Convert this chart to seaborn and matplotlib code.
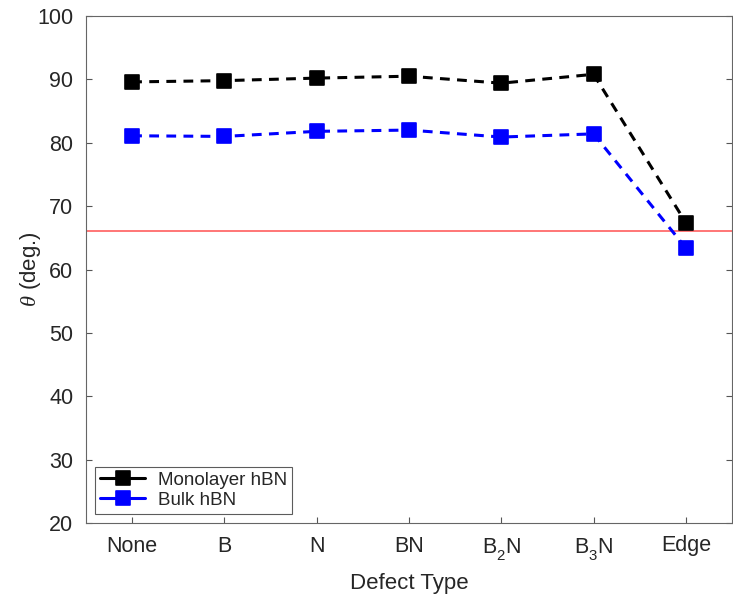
import matplotlib
matplotlib.use("Agg")
import matplotlib.pyplot as plt
from matplotlib.markers import MarkerStyle
import matplotlib._mathtext as _mt
import seaborn as sns
import pandas as pd

categories = ["None", "B", "N", "BN", "B$_2$N", "B$_3$N", "Edge"]
monolayer = [89.6, 89.8, 90.2, 90.5, 89.4, 90.8, 67.4]
bulk = [81.1, 81.0, 81.8, 82.0, 80.9, 81.4, 63.4]
threshold = 66.0

sns.set_theme(style="white")
plt.rcParams["font.family"] = ["Liberation Sans", "DejaVu Sans"]
plt.rcParams["mathtext.fontset"] = "custom"
plt.rcParams["mathtext.rm"] = "Liberation Sans"
plt.rcParams["mathtext.it"] = "Liberation Serif:italic"
try:
    _mt.FontConstantsBase.sub1 = 0.7
    _mt.FontConstantsBase.sub2 = 0.9
except Exception:
    pass

pos = list(range(1, len(categories) + 1))
df = pd.DataFrame({
    "pos": pos * 2,
    "theta": monolayer + bulk,
    "series": ["Monolayer hBN"] * len(pos) + ["Bulk hBN"] * len(pos),
})

fig = plt.figure(figsize=(7.33, 5.98), dpi=100)
ax = fig.add_axes([86 / 733, 1 - 523 / 598, (732 - 86) / 733, (523 - 16) / 598])

ax.axhline(threshold, color="#ff6b6b", lw=1.3, zorder=1)
colors = {"Monolayer hBN": "black", "Bulk hBN": "#0000ff"}
sns.lineplot(data=df, x="pos", y="theta", hue="series", sort=False,
             palette=colors,
             marker=MarkerStyle("s", joinstyle="round"), markersize=10.5,
             lw=2.2, linestyle=(0, (3.2, 2.4)),
             markeredgewidth=1.2, ax=ax, zorder=3)
for line in ax.get_lines()[1:]:
    line.set_markeredgecolor(line.get_color())

ax.set_xlim(0.5, 7.5)
ax.set_ylim(20, 100)
ax.set_xticks(pos)
ax.set_xticklabels(categories)
ax.set_yticks(range(20, 101, 10))
ax.tick_params(axis="both", direction="in", length=4, width=0.8, color="#555555",
               labelsize=15.5, labelcolor="#262626", top=False, right=True, pad=9,
               bottom=True, left=True)
for s in ax.spines.values():
    s.set_color("#666666")
    s.set_linewidth(0.8)
ax.set_xlabel("Defect Type", fontsize=16, color="#262626", labelpad=8)
ax.set_ylabel(r"$\theta$ (deg.)", fontsize=16, color="#262626", labelpad=-4)

leg = ax.legend(loc="lower left", fontsize=13.5, frameon=True, fancybox=False,
                edgecolor="#333333", handlelength=2.4, handletextpad=0.7,
                borderaxespad=0.5, labelspacing=0.15, borderpad=0.25)
leg.get_frame().set_linewidth(0.8)
for h in leg.get_lines():
    h.set_linestyle("-")

fig.savefig("out.png", dpi=100)
